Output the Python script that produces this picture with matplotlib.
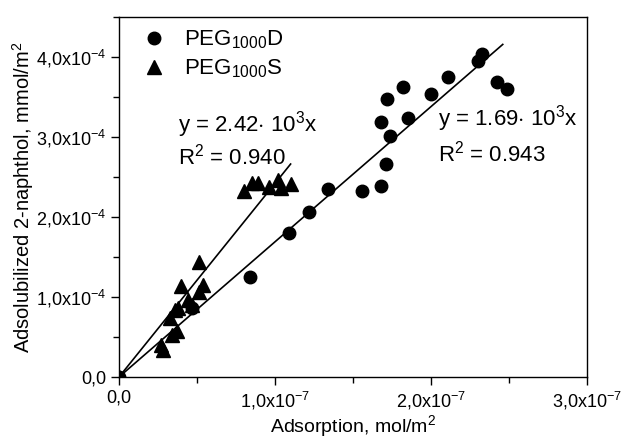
import numpy as np
import matplotlib
matplotlib.use("Agg")
import matplotlib.pyplot as plt
from matplotlib.ticker import FixedLocator, MultipleLocator
from matplotlib.lines import Line2D

plt.rcParams['font.family'] = ['Liberation Sans', 'DejaVu Sans']
plt.rcParams['mathtext.fontset'] = 'custom'
plt.rcParams['mathtext.rm'] = 'Liberation Sans'
plt.rcParams['mathtext.it'] = 'Liberation Sans'

# PEG1000D (circles): adsorption in 1e-7 mol/m2, adsolubilized in 1e-4 mmol/m2
d_x = [0.0, 0.47, 0.84, 1.09, 1.22, 1.34, 1.56, 1.68, 1.71, 1.74, 1.68, 1.72,
       1.82, 1.85, 2.00, 2.11, 2.30, 2.33, 2.42, 2.49]
d_y = [0.0, 0.86, 1.25, 1.80, 2.06, 2.35, 2.33, 2.39, 2.66, 3.01, 3.19, 3.47,
       3.62, 3.24, 3.54, 3.75, 3.95, 4.04, 3.69, 3.60]

# PEG1000S (triangles)
s_x = [0.0, 0.27, 0.28, 0.34, 0.37, 0.33, 0.36, 0.38, 0.44, 0.47, 0.40, 0.51,
       0.54, 0.51, 0.80, 0.85, 0.89, 0.96, 1.02, 1.04, 1.10]
s_y = [0.0, 0.40, 0.34, 0.53, 0.58, 0.74, 0.84, 0.86, 0.96, 0.90, 1.14, 1.44,
       1.15, 1.06, 2.33, 2.43, 2.43, 2.38, 2.46, 2.36, 2.41]

slope_d = 1.69e3
slope_s = 2.42e3
fit_end_d = 2.46e-7
fit_end_s = 1.10e-7

x_ticks = [0.0, 1e-7, 2e-7, 3e-7]
x_labels = ["0,0", "1,0x10$^{-7}$", "2,0x10$^{-7}$", "3,0x10$^{-7}$"]
y_ticks = [0.0, 1e-4, 2e-4, 3e-4, 4e-4]
y_labels = ["0,0", "1,0x10$^{-4}$", "2,0x10$^{-4}$", "3,0x10$^{-4}$", "4,0x10$^{-4}$"]

dx = np.array(d_x) * 1e-7
dy = np.array(d_y) * 1e-4
sx = np.array(s_x) * 1e-7
sy = np.array(s_y) * 1e-4

fig = plt.figure(figsize=(6.26, 4.41), dpi=100)
ax = fig.add_axes([119/626, 1-377/441, 468/626, 360/441])

ax.plot(dx, dy, 'o', color='black', markersize=9, linestyle='none')
ax.plot(sx, sy, '^', color='black', markersize=10, linestyle='none')

xl = np.array([0, fit_end_d])
ax.plot(xl, slope_d * xl, color='black', lw=1.2)
xl = np.array([0, fit_end_s])
ax.plot(xl, slope_s * xl, color='black', lw=1.2)

ax.set_xlim(0, 3e-7)
ax.set_ylim(0, 4.5e-4)
ax.xaxis.set_major_locator(FixedLocator(x_ticks))
ax.set_xticklabels(x_labels, fontsize=13)
ax.xaxis.set_minor_locator(MultipleLocator(0.5e-7))
ax.yaxis.set_major_locator(FixedLocator(y_ticks))
ax.set_yticklabels(y_labels, fontsize=13)
ax.yaxis.set_minor_locator(MultipleLocator(0.5e-4))
ax.tick_params(which='major', direction='out', length=6, width=1, pad=3)
ax.tick_params(which='minor', direction='out', length=4, width=1)
for sp in ax.spines.values():
    sp.set_linewidth(1.0)

ax.set_xlabel("Adsorption, mol/m$^2$", fontsize=14, labelpad=1)
ax.set_ylabel("Adsolubilized 2-naphthol, mmol/m$^2$", fontsize=14.5, labelpad=0)

ax.text(0.126, 0.70, "y = 2.42$\\cdot$ 10$^3$x", transform=ax.transAxes, fontsize=16, va='center')
ax.text(0.126, 0.611, "R$^2$ = 0.940", transform=ax.transAxes, fontsize=16, va='center')
ax.text(0.682, 0.719, "y = 1.69$\\cdot$ 10$^3$x", transform=ax.transAxes, fontsize=16, va='center')
ax.text(0.682, 0.622, "R$^2$ = 0.943", transform=ax.transAxes, fontsize=16, va='center')

handles = [Line2D([], [], marker='o', color='black', linestyle='none', markersize=9),
           Line2D([], [], marker='^', color='black', linestyle='none', markersize=10)]
ax.legend(handles, ["PEG$_{1000}$D", "PEG$_{1000}$S"], loc='upper left',
          bbox_to_anchor=(0.01, 1.005), frameon=False, fontsize=16,
          handletextpad=0.6, labelspacing=0.3, borderaxespad=0.2, handlelength=1.5)

fig.savefig("out.png", dpi=100)
